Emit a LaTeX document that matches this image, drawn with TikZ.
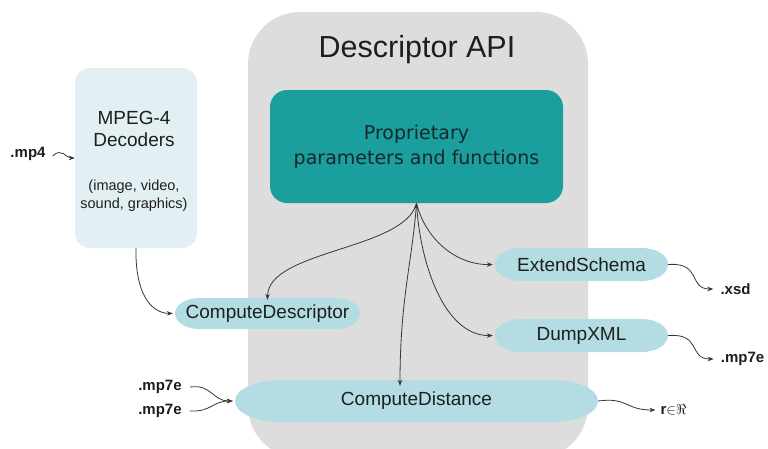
\documentclass[tikz,border=0pt]{standalone}
\usepackage{fontspec}
\setmainfont{Liberation Sans}
\newfontfamily\propfont{DejaVu Sans}
\usetikzlibrary{arrows.meta,backgrounds}
\definecolor{apigray}{RGB}{221,221,221}
\definecolor{tealbox}{RGB}{26,158,158}
\definecolor{decbox}{RGB}{226,240,243}
\definecolor{pillcol}{RGB}{180,221,227}
\definecolor{txt}{RGB}{30,30,30}
\definecolor{proptxt}{RGB}{22,40,42}
\definecolor{linecol}{RGB}{55,55,55}
% cx, cy, width, half height, end x-radius
\newcommand\pillshape[5]{%
  \fill[pillcol] ({#1-#3/2+#5},{#2-#4}) -- ({#1+#3/2-#5},{#2-#4})
    arc[start angle=90, end angle=-90, x radius=#5pt, y radius=#4pt]
    -- ({#1-#3/2+#5},{#2+#4})
    arc[start angle=270, end angle=90, x radius=#5pt, y radius=#4pt] -- cycle;}
\begin{document}
\begin{tikzpicture}[x=1pt,y=-1pt,
  conn/.style={draw=linecol, line width=0.8pt, -{Stealth[length=6pt,width=4.5pt]}},
  bothconn/.style={draw=linecol, line width=0.8pt, {Stealth[length=6pt,width=4.5pt]}-{Stealth[length=6pt,width=4.5pt]}},
  pilltext/.style={text=txt, font=\fontsize{19}{22}\selectfont, inner sep=0pt},
  smalllabel/.style={font=\bfseries\fontsize{15}{18}\selectfont, text=txt, inner sep=0pt},
]
\useasboundingbox (0,0) rectangle (768,448);
\clip (0,0) rectangle (768,448);

% background shapes
\begin{scope}[on background layer]
  \fill[white] (0,0) rectangle (768,448);
  \fill[apigray, rounded corners=52pt] (248,12) rectangle (588,458);
  \pillshape{267.5}{313.5}{185}{15.5}{24}
  \pillshape{416.5}{401}{363}{21}{45}
  \pillshape{581.5}{264.5}{173}{16.5}{26}
  \pillshape{581.5}{335.5}{173}{16.5}{26}
\end{scope}

% title
\node[text=txt, font=\fontsize{30.5}{36}\selectfont, inner sep=0pt] (title) at (417,50) {Descriptor API};

% proprietary box
\node[fill=tealbox, rounded corners=17pt, minimum width=293pt, minimum height=113pt,
      inner sep=0pt, text=proptxt, align=center,
      font=\propfont\fontsize{19}{25}\selectfont] (prop) at (416.5,146.5)
      {Proprietary\\parameters and functions};

% decoders box
\node[fill=decbox, rounded corners=15pt, minimum width=122pt, minimum height=180pt, inner sep=0pt] (dec) at (136,158) {};
\node[text=txt, align=center, font=\fontsize{19}{22}\selectfont, inner sep=0pt] (dectitle) at (134,129) {MPEG-4\\Decoders};
\node[text=txt, align=center, font=\fontsize{14.5}{18}\selectfont, inner sep=0pt] (decsub) at (134,196) {(image, video,\\sound, graphics)};

% function pills (text nodes sized like the pills)
\node[pilltext, minimum width=185pt, minimum height=31pt] (cdesc) at (267.5,313.5) {ComputeDescriptor};
\node[pilltext, minimum width=363pt, minimum height=42pt] (cdist) at (416.5,401) {ComputeDistance};
\node[pilltext, minimum width=173pt, minimum height=33pt] (ext) at (581.5,264.5) {ExtendSchema};
\node[pilltext, minimum width=173pt, minimum height=33pt] (dump) at (581.5,335.5) {DumpXML};

% small labels
\node[smalllabel] (mp4) at (28,154) {.mp4};
\node[smalllabel] (mpa) at (160,387) {.mp7e};
\node[smalllabel] (mpb) at (160,411) {.mp7e};
\node[smalllabel] (xsd) at (735.5,289) {.xsd};
\node[smalllabel] (mpc) at (742.5,359) {.mp7e};
\node[smalllabel] (rre) at (673.5,410) {r${\in}\Re$};

% connectors from the proprietary box
\draw[conn] (prop.south) .. controls (405,250) and (268,250) .. ([yshift=-2pt]cdesc.north);
\draw[bothconn] (prop.south) .. controls (412,262) and (400,300) .. ([xshift=-16.5pt,yshift=-6pt]cdist.north);
\draw[conn] (prop.south) .. controls (425,238) and (455,265) .. ([xshift=-2pt]ext.west);
\draw[conn] (prop.south) .. controls (420,265) and (445,336) .. ([xshift=-2pt]dump.west);

% decoders to ComputeDescriptor
\draw[conn] (dec.south) .. controls (135,292) and (150,313) .. ([xshift=-2pt]cdesc.west);

% inputs
\draw[conn] ([xshift=7pt,yshift=-2pt]mp4.east) .. controls (62,147) and (66,158) .. (dec.west);
\draw[conn] ([xshift=8pt]mpa.east) .. controls (212,384) and (212,401) .. ([xshift=-2pt]cdist.west);
\draw[conn] ([xshift=8pt]mpb.east) .. controls (212,412) and (212,401) .. ([xshift=-2pt]cdist.west);

% outputs
\draw[conn] (ext.east) .. controls (702,262) and (688,289) .. ([xshift=-7pt]xsd.west);
\draw[conn] (dump.east) .. controls (702,333) and (688,359) .. ([xshift=-7pt]mpc.west);
\draw[conn] (cdist.east) .. controls (628,397) and (625,410) .. ([xshift=-5pt]rre.west);
\end{tikzpicture}
\end{document}
